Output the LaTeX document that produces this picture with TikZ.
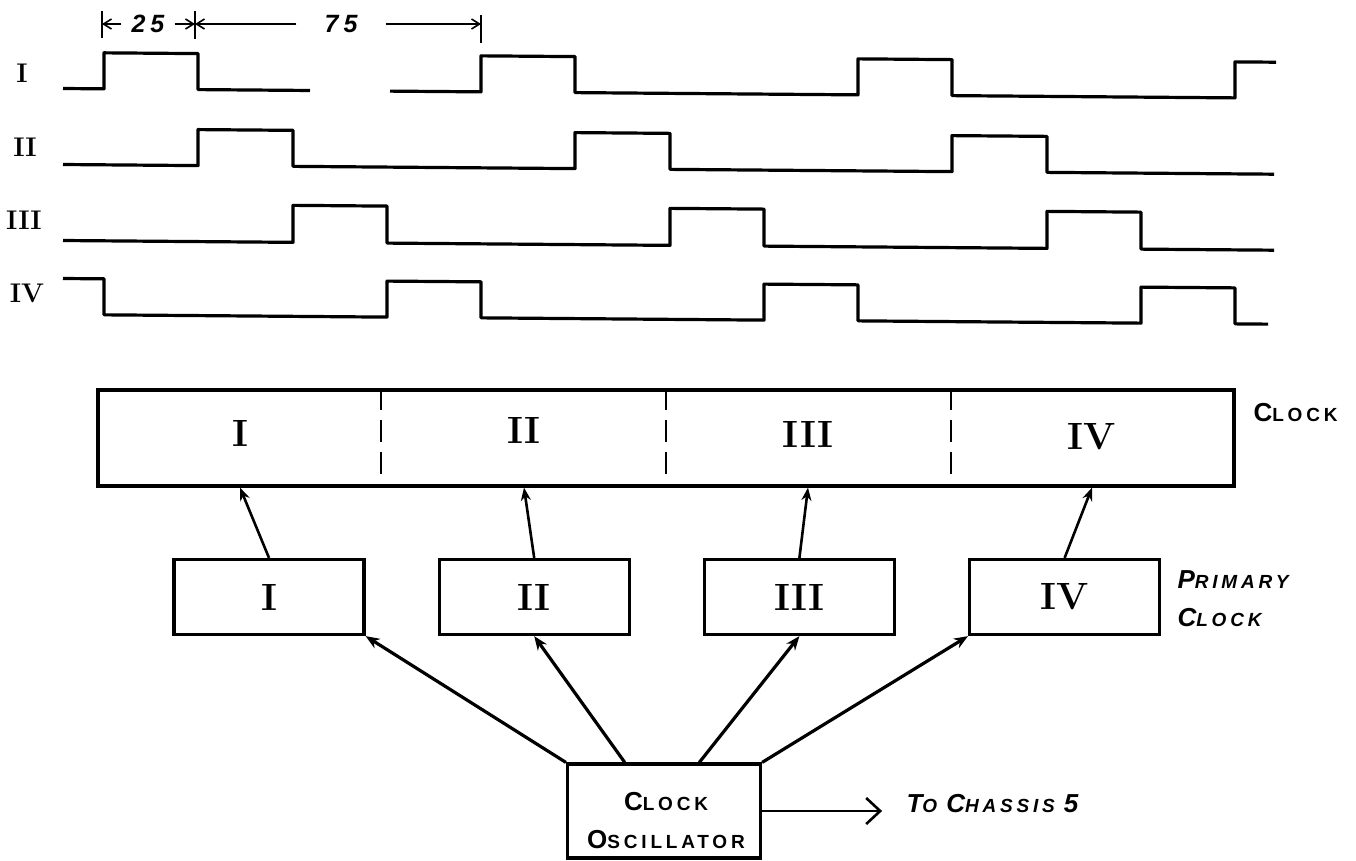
\documentclass[tikz,border=0pt]{standalone}
\usepackage{fontspec}
\newfontfamily\handfont[LetterSpace=20]{Liberation Sans}
\usetikzlibrary{arrows.meta, positioning, calc}
\newcommand{\hcap}[1]{{\fontsize{26}{26}\selectfont #1}}

\begin{document}
\begin{tikzpicture}[
        x=1pt, y=-1pt,
        wave/.style={line width=3.2pt, line join=round},
        tick/.style={line width=2.2pt},
        dimArrow/.style={-{Straight Barb[length=8pt,width=10pt]}, line width=1.6pt},
        dimLabel/.style={font={\handfont\bfseries\itshape\fontsize{25}{25}\selectfont}, inner xsep=10pt},
        rowLabel/.style={font={\bfseries\fontsize{27}{27}\selectfont}},
        regBox/.style={draw, line width=3.2pt, minimum width=1136pt, minimum height=96pt},
        divider/.style={line width=1.8pt, dash pattern=on 22pt off 10pt},
        numeral/.style={font={\bfseries\fontsize{38}{38}\selectfont}},
        primBox/.style={draw, line width=3.2pt, minimum width=190pt, minimum height=75pt, font={\bfseries\fontsize{38}{38}\selectfont}},
        oscBox/.style={draw, line width=3.2pt, minimum width=193pt, minimum height=94pt},
        hand/.style={font={\handfont\bfseries\fontsize{19}{38}\selectfont}, align=center},
        handSlant/.style={font={\handfont\bfseries\itshape\fontsize{19}{38}\selectfont}, align=left},
        upArrow/.style={-{Stealth[length=13pt,width=10pt]}, line width=2.6pt},
        feedArrow/.style={-{Stealth[length=14pt,width=11pt]}, line width=3.2pt},
        outArrow/.style={-{Straight Barb[length=14pt,width=26pt]}, line width=2.6pt}
    ]
        \fill[white] (0,0) rectangle (1356,860);

        % timing of the four phases
        \node[dimLabel] (d25) at (148,24) {25};
        \node[dimLabel, inner xsep=28pt] (d75) at (341,24) {75};
        \coordinate (tA) at (102,24);
        \coordinate (tB) at (195,24);
        \coordinate (tC) at (481,24);
        \draw[tick] (102,11) -- (102,38);
        \draw[tick] (195,11) -- (195,39);
        \draw[tick] (481,15) -- (481,43);
        \draw[dimArrow] (d25.west) -- (tA);
        \draw[dimArrow] (d25.east) -- (tB);
        \draw[dimArrow] (d75.west) -- (tB);
        \draw[dimArrow] (d75.east) -- (tC);

        \node[rowLabel] (lblI) at (22,73) {I};
        \node[rowLabel] (lblII) at (25,147) {II};
        \node[rowLabel] (lblIII) at (24,220) {III};
        \node[rowLabel] (lblIV) at (27,293) {IV};

        \begin{scope}[yslant=-0.008]
            \draw[wave] (63,88) -- (104,88) -- (104,52) -- (198,52) -- (198,88) -- (310,88);
            \draw[wave] (390,88) -- (481,88) -- (481,52) -- (575,52) -- (575,88) -- (858,88) -- (858,52) -- (952,52) -- (952,88) -- (1235,88) -- (1235,52) -- (1276,52);
            \draw[wave] (63,164) -- (198,164) -- (198,128) -- (293,128) -- (293,164) -- (575,164) -- (575,128) -- (670,128) -- (670,164) -- (952,164) -- (952,128) -- (1047,128) -- (1047,164) -- (1274,164);
            \draw[wave] (63,240) -- (293,240) -- (293,203) -- (387,203) -- (387,240) -- (670,240) -- (670,203) -- (764,203) -- (764,240) -- (1047,240) -- (1047,203) -- (1141,203) -- (1141,240) -- (1274,240);
            \draw[wave] (63,278) -- (104,278) -- (104,314) -- (387,314) -- (387,278) -- (481,278) -- (481,314) -- (764,314) -- (764,278) -- (858,278) -- (858,314) -- (1141,314) -- (1141,278) -- (1235,278) -- (1235,314) -- (1268,314);
        \end{scope}

        % clock register
        \node[regBox] (clockreg) at (666,438) {};
        \draw[divider] ($(clockreg.north west)!0.25!(clockreg.north east)$) -- ($(clockreg.south west)!0.25!(clockreg.south east)$);
        \draw[divider] ($(clockreg.north west)!0.5!(clockreg.north east)$) -- ($(clockreg.south west)!0.5!(clockreg.south east)$);
        \draw[divider] ($(clockreg.north west)!0.75!(clockreg.north east)$) -- ($(clockreg.south west)!0.75!(clockreg.south east)$);
        \node[numeral] (regI) at (240,433) {I};
        \node[numeral] (regII) at (524,430) {II};
        \node[numeral] (regIII) at (808,434) {III};
        \node[numeral] (regIV) at (1092,437) {IV};
        \node[hand, anchor=west] (regLabel) at (1250,413) {\hcap{C}LOCK};

        % primary clock
        \node[primBox] (primI) at (269,597) {I};
        \node[primBox, right=72pt of primI] (primII) {II};
        \node[primBox, right=72pt of primII] (primIII) {III};
        \node[primBox, right=72pt of primIII] (primIV) {IV};
        \node[handSlant, anchor=west] (primLabel) at (1174,599) {\hcap{P}RIMARY\\\hcap{C}LOCK};

        \draw[upArrow] (primI.north) -- (clockreg.south -| regI);
        \draw[upArrow] (primII.north) -- (clockreg.south -| regII);
        \draw[upArrow] (primIII.north) -- (clockreg.south -| regIII);
        \draw[upArrow] (primIV.north) -- (clockreg.south -| regIV);

        % oscillator
        \node[oscBox] (osc) at (664,811) {};
        \node[hand] (oscText) at (666,821) {\hcap{C}LOCK\\\hcap{O}SCILLATOR};
        \coordinate (oscII) at ($(osc.north west)!0.3!(osc.north east)$);
        \coordinate (oscIII) at ($(osc.north west)!0.68!(osc.north east)$);
        \draw[feedArrow] (osc.north west) -- (primI.south east);
        \draw[feedArrow] (oscII) -- (primII.south);
        \draw[feedArrow] (oscIII) -- (primIII.south);
        \draw[feedArrow] (osc.north east) -- (primIV.south west);

        \node[handSlant, anchor=west] (chassis) at (903,804) {\hcap{T}O \hcap{C}HASSIS \hcap{5}};
        \coordinate (chassisIn) at ($(osc.east)+(120,0)$);
        \draw[outArrow] (osc.east) -- (chassisIn);
    \end{tikzpicture}
\end{document}
